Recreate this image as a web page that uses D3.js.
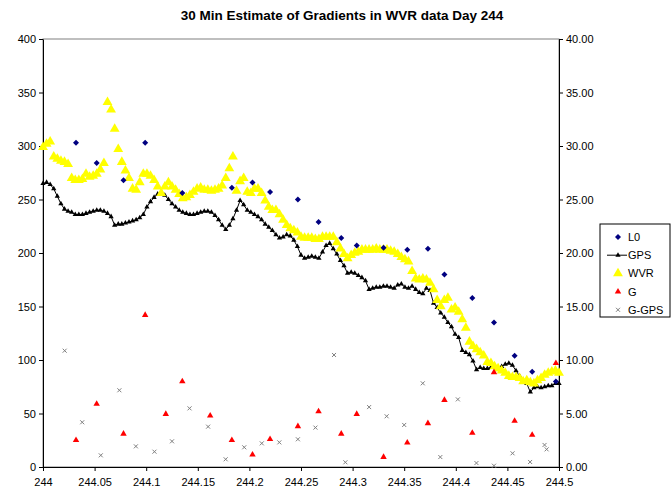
<!DOCTYPE html>
<html>
<head>
<meta charset="utf-8">
<script src="https://cdn.jsdelivr.net/npm/d3@7"></script>
<style>
  body { margin: 0; background: #fff; }
  svg { font-family: "Liberation Sans", Arial, sans-serif; }
</style>
</head>
<body>
<svg width="672" height="491"></svg>
<script>
// 5 minute samples from day 244.0 (index * step)
var sampleStart = 244;
var sampleStep = 5 / 1440;

var gps = [265,266,264,260,253,246,241,239,238,236,236,236,237,238,239,240,240,239,237,234,
    226,227,227,228,229,230,231,233,236,243,248,252,255,257,254,250,246,243,240,238,
    237,236,236,237,238,239,239,238,235,231,226,222,226,232,240,249,245,240,238,236,
    234,231,227,224,221,217,214,215,217,216,212,206,198,195,196,197,196,195,201,207,
    209,204,199,193,188,181,182,181,179,177,174,166,167,168,168,169,169,168,167,170,
    171,168,167,169,166,163,162,167,165,153,149,144,140,135,131,124,121,109,107,105,
    99,91,93,92,92,93,93,93,94,96,97,95,90,85,80,78,70,74,75,74,
    75,76,76,78,78];

var wvr = [299,302,304,290,288,286,285,283,270,268,268,269,274,271,272,274,278,284,341,334,
    316,297,285,277,270,260,259,266,274,274,272,268,262,256,262,266,262,259,255,251,
    252,254,257,260,261,259,259,258,259,260,263,270,279,290,258,267,270,257,256,260,
    260,256,249,243,240,240,236,231,226,223,221,219,215,214,214,214,213,213,215,215,
    215,215,210,204,199,195,198,200,201,203,203,203,203,204,203,203,203,202,201,199,
    196,194,192,183,176,175,176,175,172,166,156,150,156,158,147,149,145,138,130,117,
    113,110,107,104,98,97,94,92,90,88,85,84,84,83,80,81,79,78,81,83,
    86,88,89,90,88];

// 30 minute estimates
var l0Day = [244.032,244.052,244.078,244.099,244.135,244.183,244.203,244.220,244.247,244.267,
    244.289,244.304,244.330,244.353,244.373,244.389,244.416,244.437,244.457,244.474,244.497];
var l0 = [303,284,268,303,256,261,266,257,250,229,214,207,205,203,204,180,158,135,104,89,80];

var gDay = [244.032,244.052,244.078,244.099,244.119,244.135,244.162,244.183,244.203,244.220,
    244.247,244.267,244.289,244.304,244.330,244.353,244.373,244.389,244.416,244.437,
    244.457,244.474,244.497];
var g = [2.5,5.9,3.1,14.2,4.95,8.0,4.8,2.5,1.15,2.6,3.8,5.2,3.1,4.95,0.93,2.27,4.08,6.26,3.18,8.85,
    4.3,3.0,9.7];

var ggpsDay = [244.021,244.038,244.056,244.074,244.090,244.108,244.125,244.142,244.160,244.177,
    244.195,244.212,244.229,244.247,244.264,244.282,244.293,244.316,244.333,244.350,
    244.368,244.385,244.402,244.420,244.437,244.455,244.472,244.486,244.488];
var ggps = [10.87,4.18,1.09,7.17,1.93,1.43,2.4,5.48,3.77,0.72,1.84,2.21,2.3,2.59,3.68,10.47,0.44,5.6,
    4.74,3.93,7.82,0.93,6.32,0.37,0.12,1.28,0.47,2.06,1.65];

var xTicks = [244,244.05,244.1,244.15,244.2,244.25,244.3,244.35,244.4,244.45,244.5];
var leftTicks = [0,50,100,150,200,250,300,350,400];
var rightTicks = [0,5,10,15,20,25,30,35,40];
var legendNames = ["L0","GPS","WVR","G","G-GPS"];

var svg = d3.select("svg");

// plot area edges
var pL = 43, pR = 559, pT = 39, pB = 467;

var scX = d3.scaleLinear().domain([244, 244.5]).range([pL, pR]);
var scY = d3.scaleLinear().domain([0, 400]).range([pB, pT]);
var scY2 = d3.scaleLinear().domain([0, 40]).range([pB, pT]);

var sampled = function(arr) {
    return arr.map(function(v, i) { return {x: sampleStart + i * sampleStep, y: v}; })
        .filter(function(d) { return d.y != null; });
};
var paired = function(xs, ys) {
    return xs.map(function(x, i) { return {x: x, y: ys[i]}; });
};

// title
svg.append("text")
    .attr("x", 342).attr("y", 20)
    .attr("text-anchor", "middle")
    .attr("font-size", 13.5).attr("font-weight", "bold")
    .text("30 Min Estimate of Gradients in WVR data Day 244");

// plot area frame
svg.append("rect")
    .attr("x", pL).attr("y", pT)
    .attr("width", pR - pL).attr("height", pB - pT)
    .attr("fill", "none").attr("stroke", "#808080");

// axes
var styleAxis = function(g) {
    g.select(".domain").attr("stroke", "#000");
    g.selectAll(".tick line").attr("stroke", "#000");
    g.selectAll(".tick text").attr("font-size", 11)
        .attr("font-family", "Liberation Sans, Arial, sans-serif").attr("fill", "#000");
};

svg.append("g")
    .attr("transform", "translate(0," + pB + ")")
    .call(d3.axisBottom(scX).tickValues(xTicks).tickSize(4).tickSizeOuter(0)
        .tickFormat(d => String(+d.toFixed(2))))
    .call(styleAxis)
    .selectAll(".tick text").attr("dy", "1.05em");

svg.append("g")
    .attr("transform", "translate(" + pL + ",0)")
    .call(d3.axisLeft(scY).tickValues(leftTicks).tickSize(4).tickSizeOuter(0))
    .call(styleAxis);

svg.append("g")
    .attr("transform", "translate(" + pR + ",0)")
    .call(d3.axisRight(scY2).tickValues(rightTicks).tickSize(4).tickSizeOuter(0)
        .tickFormat(d3.format(".2f")))
    .call(styleAxis);

// marker paths
var tri = function(s) { return d3.symbol().type(d3.symbolTriangle).size(s)(); };
var diamond = "M0,-3L3,0L0,3L-3,0Z";
var cross = "M-2,-2L2,2M-2,2L2,-2";

// GPS line + markers
var gpsData = sampled(gps);
var lnMkr = d3.line().x(d => scX(d.x)).y(d => scY(d.y));
svg.append("path")
    .attr("d", lnMkr(gpsData))
    .attr("fill", "none").attr("stroke", "#000").attr("stroke-width", 1);
svg.append("g").selectAll("path")
    .data(gpsData).enter().append("path")
    .attr("d", tri(12))
    .attr("transform", d => "translate(" + scX(d.x) + "," + scY(d.y) + ")")
    .attr("fill", "#000");

// WVR markers
svg.append("g").selectAll("path")
    .data(sampled(wvr)).enter().append("path")
    .attr("d", tri(42))
    .attr("transform", d => "translate(" + scX(d.x) + "," + scY(d.y) + ")")
    .attr("fill", "#ffff00");

// L0 markers
svg.append("g").selectAll("path")
    .data(paired(l0Day, l0)).enter().append("path")
    .attr("d", diamond)
    .attr("transform", d => "translate(" + scX(d.x) + "," + scY(d.y) + ")")
    .attr("fill", "#000080");

// G markers (secondary axis)
svg.append("g").selectAll("path")
    .data(paired(gDay, g)).enter().append("path")
    .attr("d", tri(18))
    .attr("transform", d => "translate(" + scX(d.x) + "," + scY2(d.y) + ")")
    .attr("fill", "#ff0000");

// G-GPS markers (secondary axis)
svg.append("g").selectAll("path")
    .data(paired(ggpsDay, ggps)).enter().append("path")
    .attr("d", cross)
    .attr("transform", d => "translate(" + scX(d.x) + "," + scY2(d.y) + ")")
    .attr("fill", "none").attr("stroke", "#808080").attr("stroke-width", 1);

// legend
var lg = svg.append("g").attr("transform", "translate(600,224)");
lg.append("rect")
    .attr("width", 70).attr("height", 93)
    .attr("fill", "#fff").attr("stroke", "#000");

var items = lg.selectAll("g.item")
    .data(legendNames).enter().append("g")
    .attr("class", "item")
    .attr("transform", (d, i) => "translate(18," + (13 + i * 18.2) + ")");

items.append("text")
    .attr("x", 10).attr("y", 4)
    .attr("font-size", 11)
    .text(d => d);

items.filter(d => d == "GPS").append("line")
    .attr("x1", -11).attr("x2", 9)
    .attr("stroke", "#000");

items.append("path")
    .attr("d", function(d) {
        if (d == "L0") return diamond;
        if (d == "GPS") return tri(12);
        if (d == "WVR") return tri(42);
        if (d == "G") return tri(18);
        return cross;
    })
    .attr("fill", function(d) {
        return {L0: "#000080", GPS: "#000", WVR: "#ffff00", G: "#ff0000"}[d] || "none";
    })
    .attr("stroke", d => d == "G-GPS" ? "#808080" : null);
</script>
</body>
</html>
